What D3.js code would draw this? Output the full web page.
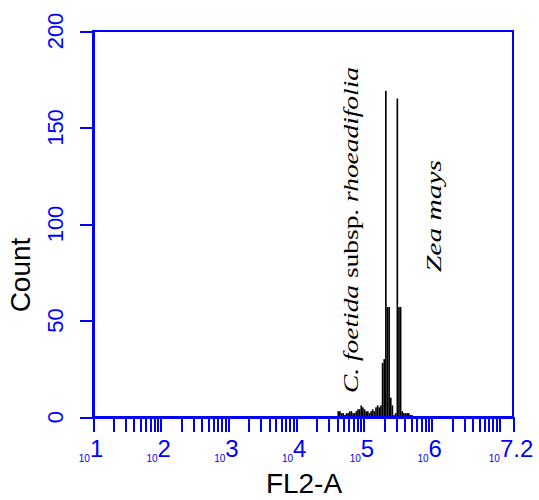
<!DOCTYPE html>
<meta charset="utf-8">
<style>
body { margin: 0; background: #fff; }
.axis path, .axis line { stroke: #0000ff; stroke-width: 2px; shape-rendering: crispEdges; }
.tick-label { fill: #0000ff; font-family: "Liberation Sans", Arial, sans-serif; }
.title { fill: #000; font-family: "Liberation Sans", Arial, sans-serif; font-size: 28px; }
.note { fill: #000; font-family: "Liberation Serif", "Times New Roman", Times, serif; font-size: 22px; }
</style>
<body>
<script src="https://cdn.jsdelivr.net/npm/d3@7"></script>
<script>

// y axis
var yTicks = [0, 50, 100, 150, 200];

// x axis: decade exponents that get a label
var xExponents = [1, 2, 3, 4, 5, 6, 7.2];

// histogram: 256 channels over 10^1 .. 10^7.2
var channels = [149, 150, 151, 152, 153, 154, 155, 156, 157, 158, 159, 160, 161, 162, 163, 164,
                165, 166, 167, 168, 169, 170, 171, 172, 173, 174, 175, 176, 177, 178, 179, 180,
                181, 182, 183, 184, 185, 186, 187, 188, 189, 190, 191, 192, 193, 194];
var counts   = [3, 3, 2, 2, 1, 2, 2, 3, 3, 2, 2, 3, 4, 4, 6, 5,
                4, 3, 3, 2, 3, 4, 3, 5, 6, 5, 6, 28, 30, 169, 57, 57,
                10, 6, 1, 2, 165, 57, 57, 3, 2, 2, 2, 2, 1, 1];

var width = 539,
    height = 500,
    plotLeft = 93, plotRight = 513, plotTop = 31, plotBottom = 417;

var svg = d3.select("body").append("svg")
    .attr("width", width)
    .attr("height", height);

var x = d3.scaleLog()
    .domain([10, Math.pow(10, 7.2)])
    .range([plotLeft, plotRight]);

var y = d3.scaleLinear()
    .domain([0, 200])
    .range([plotBottom, plotTop]);

// channel number -> fluorescence value
function chanValue(c) { return Math.pow(10, 1 + c * 6.2 / 256); }

// bars
svg.append("g").selectAll("rect")
    .data(channels)
  .enter().append("rect")
    .attr("x", function(c) { return x(chanValue(c)); })
    .attr("width", function(c) { return x(chanValue(c + 1)) - x(chanValue(c)); })
    .attr("y", function(c, i) { return y(counts[i]); })
    .attr("height", function(c, i) { return y(0) - y(counts[i]); })
    .attr("fill", "#000");

// frame
svg.append("rect")
    .attr("x", plotLeft).attr("y", plotTop)
    .attr("width", plotRight - plotLeft).attr("height", plotBottom - plotTop)
    .attr("fill", "none")
    .attr("stroke", "#0000ff")
    .attr("stroke-width", 2);

// x ticks
var xTickValues = x.ticks().concat([Math.pow(10, 7.2)]);
svg.append("g")
    .attr("class", "axis")
    .attr("transform", "translate(0," + plotBottom + ")")
    .call(d3.axisBottom(x).tickValues(xTickValues).tickSize(15).tickSizeOuter(0).tickFormat(""));

// y ticks
svg.append("g")
    .attr("class", "axis")
    .attr("transform", "translate(" + plotLeft + ",0)")
    .call(d3.axisLeft(y).tickValues(yTicks).tickSize(13).tickSizeOuter(0).tickFormat(""));

// y tick labels, rotated
svg.append("g").selectAll("text")
    .data(yTicks)
  .enter().append("text")
    .attr("class", "tick-label")
    .attr("transform", function(d) { return "translate(63," + y(d) + ") rotate(-90)"; })
    .attr("text-anchor", "middle")
    .style("font-size", "22px")
    .text(function(d) { return d; });

// x tick labels: small "10" + big exponent
var xl = svg.append("g").selectAll("text")
    .data(xExponents)
  .enter().append("text")
    .attr("class", "tick-label")
    .attr("x", function(d) { return x(Math.pow(10, d)) - 2; })
    .attr("y", 462)
    .attr("text-anchor", "middle");
xl.append("tspan")
    .style("font-size", "10px")
    .text("10");
xl.append("tspan")
    .attr("dy", -5)
    .style("font-size", "24px")
    .text(function(d) { return d; });

// axis titles
svg.append("text")
    .attr("class", "title")
    .attr("x", 304)
    .attr("y", 493)
    .attr("text-anchor", "middle")
    .text("FL2-A");

svg.append("text")
    .attr("class", "title")
    .attr("transform", "translate(30,275) rotate(-90)")
    .attr("text-anchor", "middle")
    .text("Count");

// species notes
var n1 = svg.append("text")
    .attr("class", "note")
    .attr("transform", "translate(358,230) rotate(-90)")
    .attr("text-anchor", "middle")
    .attr("textLength", 326)
    .attr("lengthAdjust", "spacingAndGlyphs");
n1.append("tspan").style("font-style", "italic").text("C. foetida");
n1.append("tspan").text(" subsp. ");
n1.append("tspan").style("font-style", "italic").text("rhoeadifolia");

svg.append("text")
    .attr("class", "note")
    .attr("transform", "translate(441,216) rotate(-90)")
    .attr("text-anchor", "middle")
    .attr("textLength", 112)
    .attr("lengthAdjust", "spacingAndGlyphs")
    .style("font-style", "italic")
    .text("Zea mays");

</script>
</body>
